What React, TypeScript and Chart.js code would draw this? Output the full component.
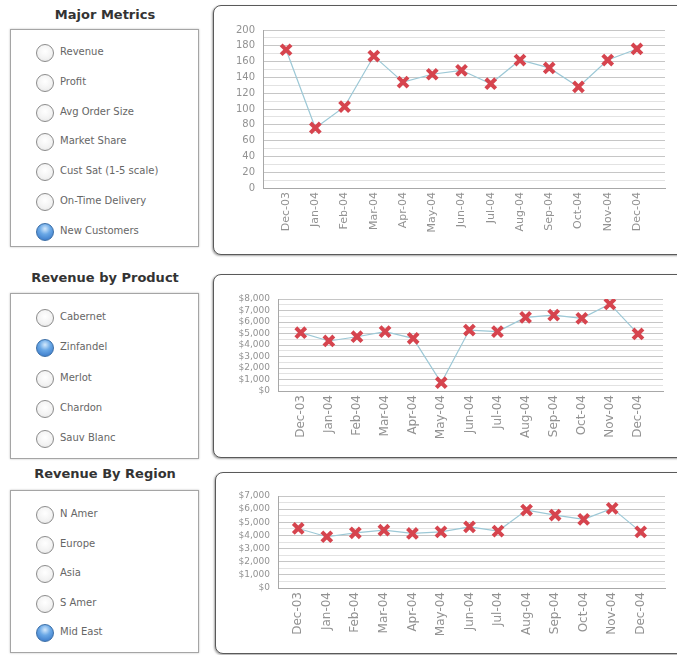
import React, { useEffect, useRef } from "react";
import { Chart, registerables } from "chart.js";

Chart.register(...registerables);

const months = ["Dec-03", "Jan-04", "Feb-04", "Mar-04", "Apr-04", "May-04", "Jun-04", "Jul-04", "Aug-04", "Sep-04", "Oct-04", "Nov-04", "Dec-04"];
const newCustomers = [175, 76, 103, 167, 134, 144, 149, 132, 162, 152, 128, 162, 176];
const zinfandel = [5070, 4350, 4720, 5160, 4580, 720, 5300, 5160, 6400, 6600, 6320, 7570, 4960];
const midEast = [4530, 3900, 4200, 4400, 4150, 4270, 4650, 4330, 5930, 5550, 5220, 6060, 4270];

const majorMetrics = ["Revenue", "Profit", "Avg Order Size", "Market Share", "Cust Sat (1-5 scale)", "On-Time Delivery", "New Customers"];
const products = ["Cabernet", "Zinfandel", "Merlot", "Chardon", "Sauv Blanc"];
const regions = ["N Amer", "Europe", "Asia", "S Amer", "Mid East"];

const FONT = "'DejaVu Sans', Verdana, sans-serif";

type ChartSpec = {
  values: number[];
  yMax: number;
  yStep: number;
  yMajor: number;
  money: boolean;
  xMin: number;
  xMax: number;
  yWidth: number;
  xHeight: number;
  padTop: number;
  padRight: number;
  padBottom: number;
  yFont: number;
  xFont: number;
  width: number;
  height: number;
};

function LineChart({ spec }: { spec: ChartSpec }) {
  const ref = useRef<HTMLCanvasElement | null>(null);
  useEffect(() => {
    if (!ref.current) return;
    const s = spec;
    const chart = new Chart(ref.current, {
      type: "line",
      data: {
        datasets: [
          {
            data: s.values.map((v, i) => ({ x: i, y: v })),
            borderColor: "#9cc8d6",
            borderWidth: 1.2,
            tension: 0,
            pointStyle: "crossRot",
            pointRadius: 7,
            pointBorderWidth: 4,
            pointBorderColor: "#d6444e",
            pointBackgroundColor: "#d6444e",
          },
        ],
      },
      options: {
        animation: false,
        responsive: false,
        maintainAspectRatio: false,
        plugins: { legend: { display: false }, tooltip: { enabled: false } },
        layout: { padding: { top: s.padTop, right: s.padRight, bottom: s.padBottom, left: 0 } },
        scales: {
          x: {
            type: "linear",
            min: s.xMin,
            max: s.xMax,
            afterBuildTicks: (scale: any) => {
              scale.ticks = months.map((_, i) => ({ value: i }));
            },
            afterFit: (scale: any) => {
              scale.height = s.xHeight;
            },
            ticks: {
              autoSkip: false,
              minRotation: 90,
              maxRotation: 90,
              padding: 4,
              color: "#929292",
              font: { family: FONT, size: s.xFont },
              callback: (v: any) => months[Number(v)] ?? "",
            },
            grid: { display: false, drawTicks: false },
            border: { display: true, color: "#a8a8a8", width: 1 },
          },
          y: {
            min: 0,
            max: s.yMax,
            afterFit: (scale: any) => {
              scale.width = s.yWidth;
            },
            ticks: {
              stepSize: s.yStep,
              autoSkip: false,
              padding: 8,
              color: "#929292",
              font: { family: FONT, size: s.yFont },
              callback: (v: any) => {
                const n = Number(v);
                if (Math.round(n) % s.yMajor !== 0) return "";
                return s.money ? "$" + n.toLocaleString("en-US") : String(n);
              },
            },
            grid: {
              drawTicks: false,
              color: (ctx: any) => {
                const v = ctx.tick ? ctx.tick.value : 0;
                return Math.round(v) % s.yMajor === 0 ? "#c6c6c6" : "#e2e2e2";
              },
              lineWidth: 1,
            },
            border: { display: true, color: "#a8a8a8", width: 1 },
          },
        },
      },
    } as any);
    return () => chart.destroy();
  }, [spec]);
  return (
    <canvas
      ref={ref}
      width={spec.width}
      height={spec.height}
      style={{ width: spec.width, height: spec.height, display: "block" }}
    />
  );
}

function RadioPanel({
  title,
  titleY,
  boxTop,
  boxBottom,
  items,
  firstY,
  step,
  selected,
}: {
  title: string;
  titleY: number;
  boxTop: number;
  boxBottom: number;
  items: string[];
  firstY: number;
  step: number;
  selected: number;
}) {
  return (
    <>
      <div
        style={{
          position: "absolute",
          left: 0,
          width: 210,
          top: titleY - 9,
          height: 18,
          lineHeight: "18px",
          textAlign: "center",
          font: `bold 13px ${FONT}`,
          color: "#333",
        }}
      >
        {title}
      </div>
      <div
        style={{
          position: "absolute",
          left: 10,
          top: boxTop,
          width: 189,
          height: boxBottom - boxTop,
          border: "1px solid #a5a5a5",
          boxShadow: "0 0 2px rgba(0,0,0,0.25)",
          background: "#fff",
          boxSizing: "border-box",
        }}
      />
      {items.map((label, i) => {
        const cy = firstY + i * step;
        const sel = i === selected;
        return (
          <React.Fragment key={label}>
            <div
              style={{
                position: "absolute",
                left: 36,
                top: cy - 9,
                width: 18,
                height: 18,
                borderRadius: "50%",
                boxSizing: "border-box",
                border: sel ? "1px solid #3b6ea6" : "1.5px solid #8c8c8c",
                background: sel
                  ? "radial-gradient(circle at 50% 30%, #d4e9fc 0%, #6aa8e6 40%, #2f6fc2 100%)"
                  : "radial-gradient(circle at 50% 40%, #ffffff 0%, #f2f2f2 60%, #dcdcdc 100%)",
              }}
            />
            <div
              style={{
                position: "absolute",
                left: 60,
                top: cy - 7,
                height: 14,
                lineHeight: "14px",
                font: `10px ${FONT}`,
                color: "#666",
                whiteSpace: "nowrap",
              }}
            >
              {label}
            </div>
          </React.Fragment>
        );
      })}
    </>
  );
}

const spec1: ChartSpec = {
  values: newCustomers,
  yMax: 200,
  yStep: 10,
  yMajor: 20,
  money: false,
  xMin: -0.79,
  xMax: 12.96,
  yWidth: 50,
  xHeight: 62,
  padTop: 25,
  padRight: 12,
  padBottom: 5,
  yFont: 10,
  xFont: 11,
  width: 464,
  height: 250,
};

const spec2: ChartSpec = {
  values: zinfandel,
  yMax: 8000,
  yStep: 500,
  yMajor: 1000,
  money: true,
  xMin: -0.81,
  xMax: 12.89,
  yWidth: 65,
  xHeight: 62,
  padTop: 25,
  padRight: 14,
  padBottom: 5,
  yFont: 9,
  xFont: 12,
  width: 464,
  height: 184,
};

const spec3: ChartSpec = {
  values: midEast,
  yMax: 7000,
  yStep: 500,
  yMajor: 1000,
  money: true,
  xMin: -0.71,
  xMax: 12.85,
  yWidth: 63,
  xHeight: 62,
  padTop: 24,
  padRight: 12,
  padBottom: 5,
  yFont: 9,
  xFont: 12,
  width: 462,
  height: 183,
};

function ChartBox({ left, top, bottom, spec }: { left: number; top: number; bottom: number; spec: ChartSpec }) {
  return (
    <>
      <div
        style={{
          position: "absolute",
          left,
          top,
          width: 500,
          height: bottom - top,
          border: "1.5px solid #5a5a5a",
          borderRadius: 8,
          boxShadow: "-1px 1px 2px rgba(0,0,0,0.35)",
          background: "#fff",
          boxSizing: "border-box",
        }}
      />
      <div style={{ position: "absolute", left, top }}>
        <LineChart spec={spec} />
      </div>
    </>
  );
}

export default function App() {
  return (
    <div
      style={{
        position: "fixed",
        left: 0,
        top: 0,
        width: 677,
        height: 655,
        overflow: "hidden",
        background: "#fff",
      }}
    >
      <RadioPanel title="Major Metrics" titleY={16} boxTop={29} boxBottom={247} items={majorMetrics} firstY={53} step={29.8} selected={6} />
      <RadioPanel title="Revenue by Product" titleY={279} boxTop={293} boxBottom={459} items={products} firstY={318} step={30.3} selected={1} />
      <RadioPanel title="Revenue By Region" titleY={475} boxTop={490} boxBottom={653} items={regions} firstY={515} step={29.5} selected={4} />
      <ChartBox left={213} top={5} bottom={255} spec={spec1} />
      <ChartBox left={213} top={274} bottom={458} spec={spec2} />
      <ChartBox left={215} top={472} bottom={654} spec={spec3} />
    </div>
  );
}
